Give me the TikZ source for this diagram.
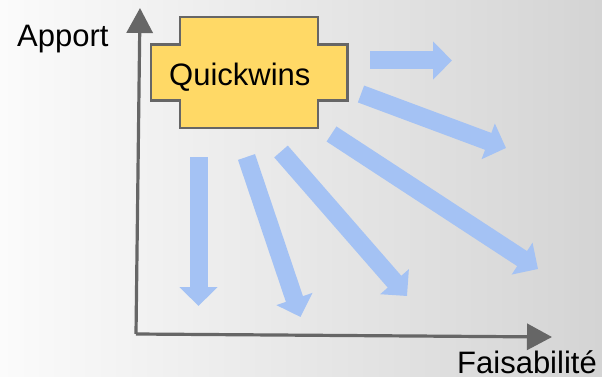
\documentclass[tikz,border=0pt]{standalone}
\usepackage{fontspec}
\setmainfont{Liberation Sans}
\usetikzlibrary{arrows.meta}
\definecolor{axisgray}{HTML}{666666}
\definecolor{boxfill}{HTML}{FFD966}
\definecolor{boxline}{HTML}{666666}
\definecolor{flowblue}{HTML}{A4C2F4}
\definecolor{bgleft}{HTML}{FBFBFB}
\definecolor{bgright}{HTML}{D4D4D4}
\tikzset{
  axis/.style={draw=axisgray, line width=3.2pt, -{Triangle[length=25pt,width=26pt]}},
  flow/.style={draw=flowblue, line width=18pt, -{Triangle[length=19pt,width=37pt]}},
  label/.style={inner sep=0pt, font=\fontsize{31}{36}\selectfont, anchor=base west},
}
\begin{document}
\begin{tikzpicture}[x=1pt,y=-1pt]
  % background
  \shade[left color=bgleft, right color=bgright] (0,0) rectangle (602,377);
  \useasboundingbox (0,0) rectangle (602,377);

  % axes
  \coordinate (origin) at (136,334);
  \coordinate (ytop) at (140,8);
  \coordinate (xend) at (552,337);
  \draw[axis] (origin) -- (ytop);
  \draw[axis] (origin) -- (xend);

  \node[label] (apport) at (17,47) {Apport};
  \node[label, text depth=0pt] (faisab) at (457,373.5) {Faisabilité};

  % Quickwins box
  \draw[fill=boxfill, draw=boxline, line width=2.8pt, line join=miter]
    (180,17) -- (318,17) -- (318,44.5) -- (347.5,44.5) -- (347.5,100.5)
    -- (318,100.5) -- (318,128) -- (180,128) -- (180,100.5) -- (151,100.5)
    -- (151,44.5) -- (180,44.5) -- cycle;
  \node[label] (qw) at (169,86) {Quickwins};

  % fan of arrows
  \coordinate (t1) at (370,60.5);   \coordinate (h1) at (452,60.5);
  \coordinate (t2) at (361,94);     \coordinate (h2) at (506,148);
  \coordinate (t3) at (331.5,134);  \coordinate (h3) at (538,269);
  \coordinate (t4) at (281,151.5);  \coordinate (h4) at (407,296);
  \coordinate (t5) at (246.5,157);  \coordinate (h5) at (300.5,317);
  \coordinate (t6) at (198.5,157);  \coordinate (h6) at (198.5,306);
  \foreach \i in {1,...,6} {
    \draw[flow] (t\i) -- (h\i);
  }
\end{tikzpicture}
\end{document}
